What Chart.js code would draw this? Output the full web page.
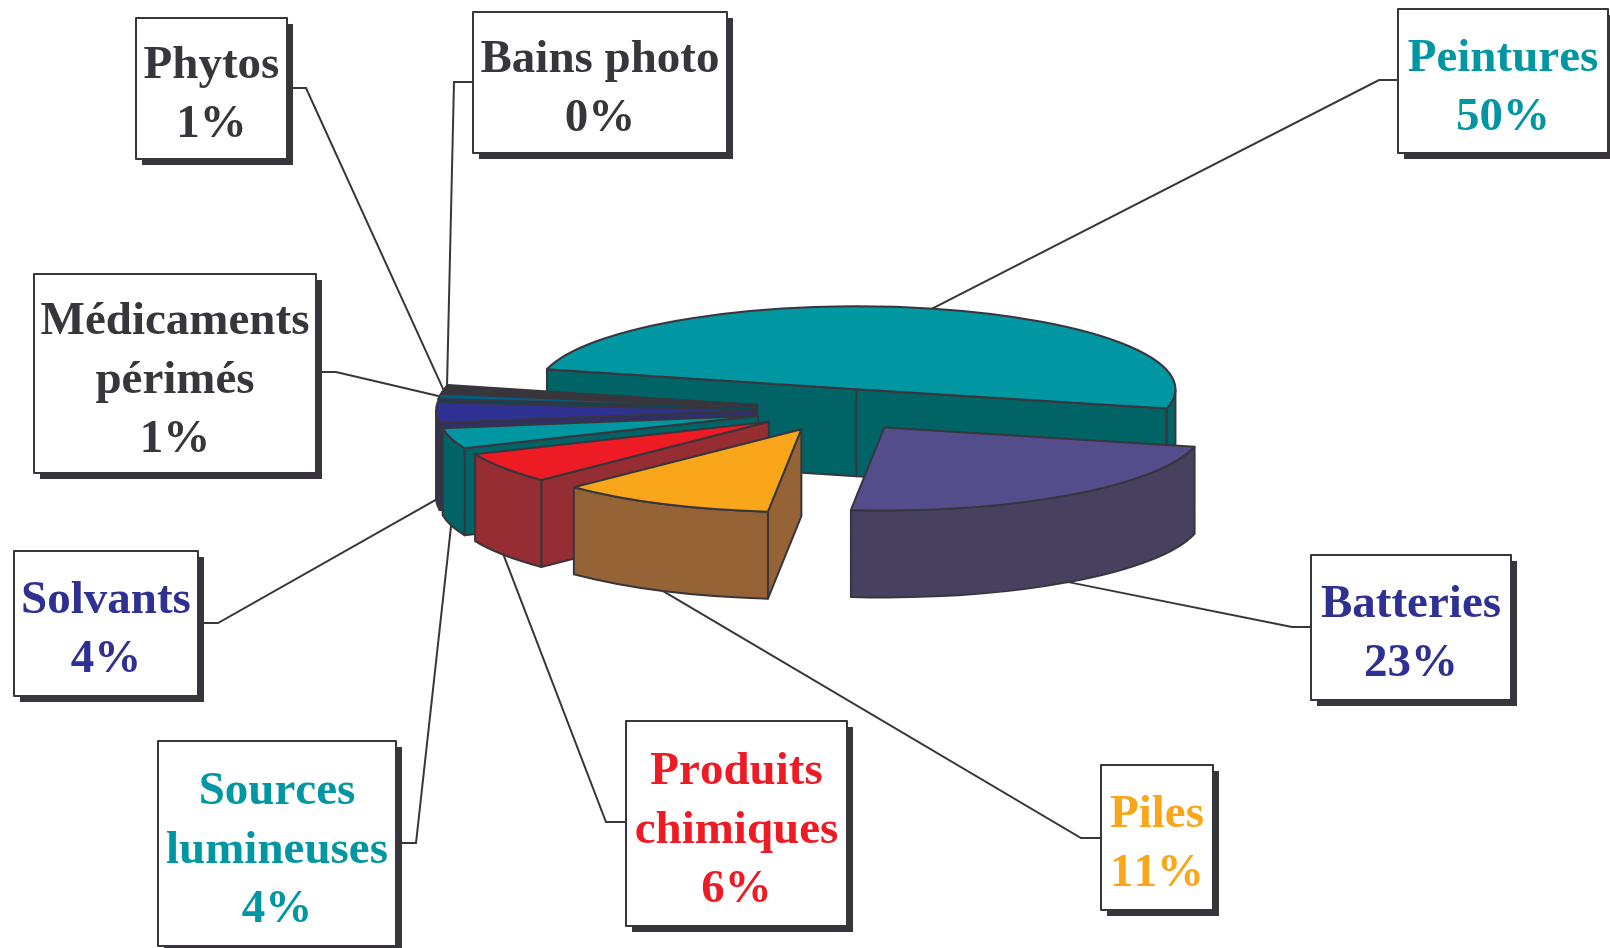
<!DOCTYPE html>
<html lang="fr">
<head>
<meta charset="utf-8">
<title>Déchets</title>
<script src="https://cdn.jsdelivr.net/npm/chart.js@4"></script>
<style>
	html, body { margin: 0; padding: 0; background: #fff; }
	canvas { display: block; }
</style>
</head>
<body>
<canvas id="pie-chart" width="1610" height="948"></canvas>
<script>
var categories = ["Peintures", "Batteries", "Piles", "Produits\nchimiques", "Sources\nlumineuses", "Solvants", "Médicaments\npérimés", "Phytos", "Bains photo"];
var valeurs = [50, 23, 11, 6, 4, 4, 1, 1, 0.3];
var pourcentages = ["50%", "23%", "11%", "6%", "4%", "4%", "1%", "1%", "0%"];

var couleursDessus = ["#0097a3", "#534d8b", "#faa61a", "#ed1c24", "#0097a3", "#2e3192", "#005f86", "#38363c", "#5a2a38"];
var couleursCote = ["#006466", "#47405f", "#966337", "#952d33", "#006466", "#2e2f6b", "#004a60", "#38363c", "#38363c"];
var couleursTexte = ["#0097a3", "#2e3192", "#faa61a", "#ed1c24", "#0097a3", "#2e3192", "#38363c", "#38363c", "#38363c"];

// x, y, largeur, hauteur de chaque boite, puis le coude du trait
var boites = [
	[1398, 9, 210, 144, 1379, 80],
	[1311, 555, 200, 145, 1292, 627],
	[1101, 765, 112, 145, 1081, 838],
	[626, 721, 221, 205, 606, 822],
	[158, 741, 238, 205, 416, 843],
	[14, 551, 184, 145, 218, 623],
	[34, 274, 282, 199, 336, 372],
	[136, 18, 151, 141, 306, 88],
	[473, 12, 254, 141, 454, 82]
];

var ECRASE = 0.26;
var PROFONDEUR = 87;
var TRAIT = "#38363c";
var POLICE = "bold 47px 'Liberation Serif'";
var INTERLIGNE = 59;

// centre du morceau une fois eclate, en pixels ecran
var sommet = function (arc) {
	var mid = (arc.startAngle + arc.endAngle) / 2;
	var d = arc.options.offset / 4;
	return { x: arc.x + Math.cos(mid) * d, y: arc.y + Math.sin(mid) * d * ECRASE, mid: mid };
};

var bordExt = function (arc, s, a) {
	return { x: s.x + Math.cos(a) * arc.outerRadius, y: s.y + Math.sin(a) * arc.outerRadius * ECRASE };
};

var faceRadiale = function (ctx, arc, s, a, couleur) {
	var p = bordExt(arc, s, a);
	ctx.beginPath();
	ctx.moveTo(s.x, s.y);
	ctx.lineTo(p.x, p.y);
	ctx.lineTo(p.x, p.y + PROFONDEUR);
	ctx.lineTo(s.x, s.y + PROFONDEUR);
	ctx.closePath();
	ctx.fillStyle = couleur;
	ctx.fill();
	ctx.stroke();
};

var faceBord = function (ctx, arc, s, a1, a2, couleur) {
	var r = arc.outerRadius;
	ctx.beginPath();
	ctx.ellipse(s.x, s.y, r, r * ECRASE, 0, a1, a2);
	ctx.ellipse(s.x, s.y + PROFONDEUR, r, r * ECRASE, 0, a2, a1, true);
	ctx.closePath();
	ctx.fillStyle = couleur;
	ctx.fill();
	ctx.stroke();
};

var dessinerMorceau = function (ctx, arc, i) {
	var s = sommet(arc);
	var a = arc.startAngle, b = arc.endAngle;
	var r = arc.outerRadius;
	ctx.strokeStyle = TRAIT;
	ctx.lineWidth = 2;
	ctx.lineJoin = "round";

	if (Math.cos(a) < 0) faceRadiale(ctx, arc, s, a, couleursCote[i]);
	if (Math.cos(b) > 0) faceRadiale(ctx, arc, s, b, couleursCote[i]);
	// seule la moitie avant du bord se voit
	for (var k = -1; k < 2; k++) {
		var debut = Math.max(a, k * 2 * Math.PI);
		var fin = Math.min(b, k * 2 * Math.PI + Math.PI);
		if (fin > debut) faceBord(ctx, arc, s, debut, fin, couleursCote[i]);
	}

	// le dessus, avec les angles et le rayon de l'element du graphique
	ctx.beginPath();
	ctx.moveTo(s.x, s.y);
	ctx.ellipse(s.x, s.y, r, r * ECRASE, 0, a, b);
	ctx.closePath();
	ctx.fillStyle = arc.options.backgroundColor;
	ctx.fill();
	ctx.stroke();
};

var dessinerTraits = function (ctx, arcs) {
	ctx.strokeStyle = TRAIT;
	ctx.lineWidth = 2;
	arcs.forEach(function (arc, i) {
		var s = sommet(arc);
		var p = bordExt(arc, s, s.mid);
		var b = boites[i];
		var yTrait = b[5];
		var xBoite = b[4] < b[0] ? b[0] : b[0] + b[2];
		ctx.beginPath();
		ctx.moveTo(xBoite, yTrait);
		ctx.lineTo(b[4], yTrait);
		ctx.lineTo(p.x, Math.sin(s.mid) > 0 ? p.y + PROFONDEUR : p.y);
		ctx.stroke();
	});
};

var pie3d = {
	id: "pie3d",
	beforeDatasetsDraw: function (chart) {
		var ctx = chart.ctx;
		var arcs = chart.getDatasetMeta(0).data;
		dessinerTraits(ctx, arcs);
		var ordre = arcs.map(function (arc, i) { return i; });
		ordre.sort(function (u, v) {
			return Math.sin(sommet(arcs[u]).mid) - Math.sin(sommet(arcs[v]).mid);
		});
		ordre.forEach(function (i) {
			dessinerMorceau(ctx, arcs[i], i);
		});
		return false;
	},
	afterDraw: function (chart) {
		var ctx = chart.ctx;
		ctx.save();
		boites.forEach(function (b, i) {
			ctx.fillStyle = TRAIT;
			ctx.fillRect(b[0] + 6, b[1] + 6, b[2], b[3]);
			ctx.fillStyle = "#fff";
			ctx.fillRect(b[0], b[1], b[2], b[3]);
			ctx.strokeStyle = TRAIT;
			ctx.lineWidth = 2;
			ctx.strokeRect(b[0], b[1], b[2], b[3]);

			var lignes = categories[i].split("\n").concat(pourcentages[i]);
			var milieu = b[1] + b[3] / 2;
			ctx.font = POLICE;
			ctx.fontKerning = "none";
			ctx.textAlign = "center";
			ctx.textBaseline = "alphabetic";
			ctx.fillStyle = couleursTexte[i];
			lignes.forEach(function (ligne, j) {
				var y = milieu + (j - (lignes.length - 1) / 2) * INTERLIGNE + 19;
				ctx.fillText(ligne, b[0] + b[2] / 2, y);
			});
		});
		ctx.restore();
	}
};

var ctx = document.getElementById("pie-chart").getContext("2d");
var chart = new Chart(ctx, {
	type: "pie",
	data: {
		labels: categories,
		datasets: [{
			data: valeurs,
			backgroundColor: couleursDessus,
			borderWidth: 0,
			offset: 328
		}]
	},
	options: {
		responsive: false,
		animation: false,
		rotation: 284,
		radius: 319,
		layout: { padding: { left: 64, bottom: 128 } },
		plugins: {
			legend: { display: false },
			tooltip: { enabled: false }
		}
	},
	plugins: [pie3d]
});
</script>
</body>
</html>
